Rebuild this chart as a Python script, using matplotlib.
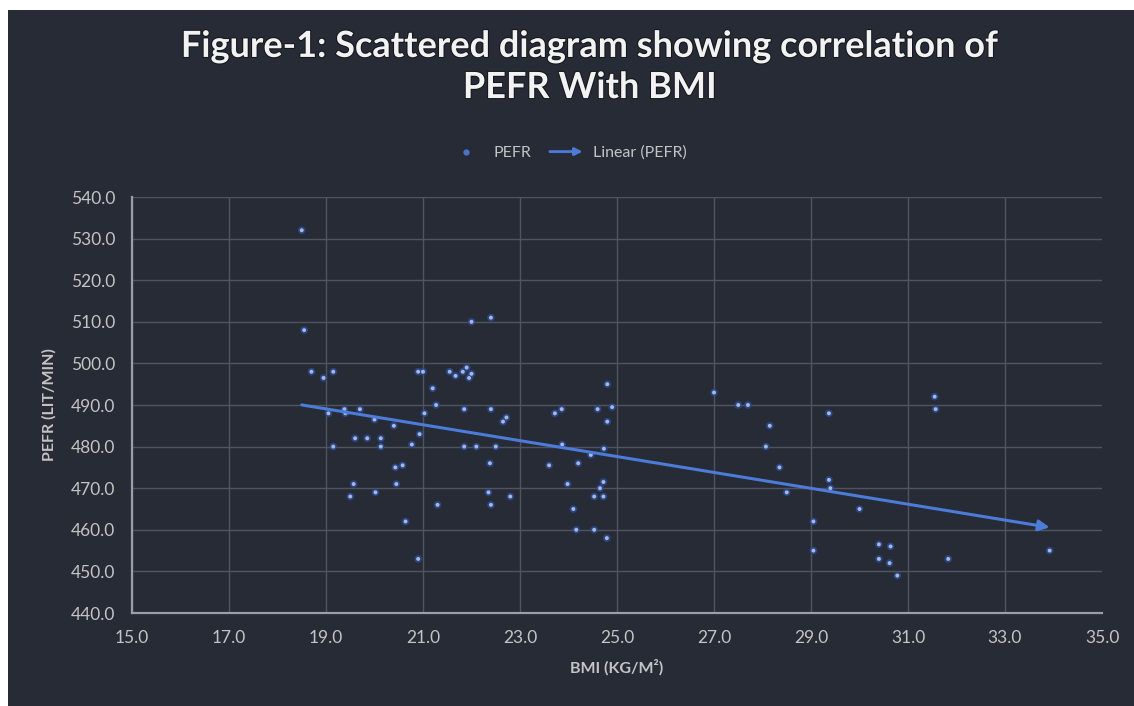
import numpy as np
import matplotlib.pyplot as plt
import matplotlib.patheffects as pe
from matplotlib.legend_handler import HandlerBase
from matplotlib.lines import Line2D
from matplotlib.patches import FancyArrowPatch, Rectangle

# data (BMI in kg/m2, PEFR in lit/min)
bmi = [18.5, 18.55, 22.0, 22.4, 18.7, 18.95, 19.15, 20.9, 21.0, 21.2,
       21.55, 21.67, 21.9, 21.82, 21.95, 22.0, 21.27, 21.03, 20.4, 20.93,
       21.85, 22.4, 22.65, 22.72, 23.72, 23.86, 24.8, 24.6, 24.9, 24.8,
       19.05, 19.38, 19.4, 19.7, 20.0, 20.77, 19.6, 19.85, 20.13, 19.15,
       20.13, 20.43, 20.58, 20.45, 19.57, 19.5, 20.02, 21.85, 22.1, 21.3,
       20.64, 20.9, 27.0, 27.5, 27.7, 28.15, 28.07, 28.35, 28.5, 22.5,
       22.38, 22.35, 22.4, 22.8, 23.6, 23.87, 24.2, 24.46, 24.73, 23.98,
       24.72, 24.65, 24.53, 24.72, 24.1, 24.16, 24.53, 24.79, 29.37, 29.37,
       29.4, 29.05, 29.05, 30.0, 30.4, 30.64, 30.4, 30.62, 30.78, 31.55,
       31.57, 31.83, 33.92]
pefr = [532, 508, 510, 511, 498, 496.5, 498, 498, 498, 494,
        498, 497, 499, 498, 496.5, 497.5, 490, 488, 485, 483,
        489, 489, 486, 487, 488, 489, 495, 489, 489.5, 486,
        488, 489, 488, 489, 486.5, 480.5, 482, 482, 482, 480,
        480, 475, 475.5, 471, 471, 468, 469, 480, 480, 466,
        462, 453, 493, 490, 490, 485, 480, 475, 469, 480,
        476, 469, 466, 468, 475.5, 480.5, 476, 478, 479.5, 471,
        471.5, 470, 468, 468, 465, 460, 460, 458, 488, 472,
        470, 462, 455, 465, 456.5, 456, 453, 452, 449, 492,
        489, 453, 455]

title = "Figure-1: Scattered diagram showing correlation of\nPEFR With BMI"
x_ticks = np.arange(15, 36, 2)
y_ticks = np.arange(440, 541, 10)

BG = "#262B36"
GRID = "#4F545E"
TEXT = "#C4C4C4"
LINE = "#4C7BD8"

plt.rcParams["font.family"] = ["Lato", "DejaVu Sans"]


class ArrowHandler(HandlerBase):
    # legend entry drawn as a small arrow, like the trendline
    def create_artists(self, legend, orig, xdescent, ydescent, width, height,
                       fontsize, trans):
        y = height / 2 - ydescent
        arr = FancyArrowPatch((-xdescent, y), (-xdescent + width, y),
                              arrowstyle="-|>", mutation_scale=11, lw=2,
                              color=orig.get_color(), transform=trans)
        return [arr]


fig = plt.figure(figsize=(11.34, 7.06), dpi=100, facecolor="white")
fig.patches.append(Rectangle((8 / 1134, 0), 1, 1 - 10 / 706, transform=fig.transFigure,
                             facecolor=BG, edgecolor="none", zorder=-10))

ax = fig.add_axes([132 / 1134, 93 / 706, 970 / 1134, 416 / 706])
ax.set_facecolor(BG)

ax.scatter(bmi, pefr, s=30, color="#2B4A92", alpha=0.85, edgecolors="none", zorder=3)
ax.scatter(bmi, pefr, s=8, color="#A9B7DD", edgecolors="none", zorder=4)

# linear trendline over the data range
slope, intercept = np.polyfit(bmi, pefr, 1)
x0, x1 = min(bmi), max(bmi)
ax.annotate("", xy=(x1, slope * x1 + intercept), xytext=(x0, slope * x0 + intercept),
            arrowprops=dict(arrowstyle="-|>", color=LINE, lw=2.2, mutation_scale=16,
                            shrinkA=0, shrinkB=0), zorder=5)

ax.set_xlim(15, 35)
ax.set_ylim(440, 540)
ax.set_xticks(x_ticks)
ax.set_yticks(y_ticks)
ax.xaxis.set_major_formatter(lambda v, p: f"{v:.1f}")
ax.yaxis.set_major_formatter(lambda v, p: f"{v:.1f}")
ax.tick_params(length=0, labelsize=12.5, labelcolor=TEXT)
ax.tick_params(axis="x", pad=12)
ax.tick_params(axis="y", pad=12)

ax.grid(True, color=GRID, lw=1)
ax.set_axisbelow(True)
ax.get_xgridlines()[-1].set_visible(False)
for side in ["top", "right"]:
    ax.spines[side].set_visible(False)
for side in ["left", "bottom"]:
    ax.spines[side].set_color("#9A9EA6")
    ax.spines[side].set_linewidth(1.6)

ax.set_xlabel("BMI (KG/M²)", color=TEXT, fontsize=11.5, fontweight="bold", labelpad=10)
ax.set_ylabel("PEFR (LIT/MIN)", color=TEXT, fontsize=11.5, fontweight="bold", labelpad=10)

fig.text(0.52, 1 - 67 / 706, title, ha="center", va="center", fontsize=26,
         fontweight="bold", color="#F2F2F2", linespacing=1.3,
         path_effects=[pe.withStroke(linewidth=1.5, foreground="#14171D")])

handles = [Line2D([], [], marker="o", ls="none", markersize=3.5, color="#4C72C8"),
           Line2D([], [], color=LINE)]
fig.legend(handles, ["PEFR", "Linear (PEFR)"], loc="center",
           bbox_to_anchor=(0.5, 1 - 153 / 706), ncol=2, frameon=False,
           labelcolor=TEXT, fontsize=11.5, handlelength=2.4, columnspacing=1.0,
           handletextpad=0.5, handler_map={handles[1]: ArrowHandler()})

fig.savefig("out.png", dpi=100, facecolor=fig.get_facecolor())
